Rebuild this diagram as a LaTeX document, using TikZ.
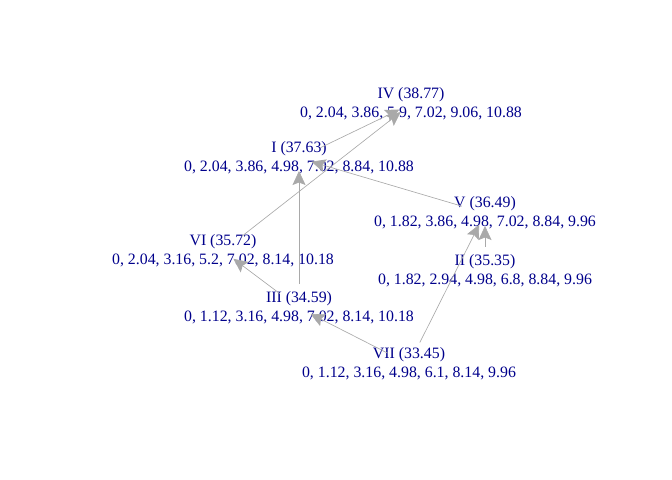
\documentclass[tikz,border=0pt]{standalone}
\usepackage{fontspec}
\setmainfont{Liberation Serif}
\usetikzlibrary{arrows.meta}
\definecolor{labelblue}{HTML}{00008B}
\definecolor{edgegray}{HTML}{A9A9A9}
\begin{document}
\begin{tikzpicture}[x=1bp,y=-1bp,
  vlabel/.style={inner sep=0pt,align=center,text=labelblue,font=\fontsize{15.9pt}{19pt}\selectfont},
  edge/.style={draw=edgegray,line width=0.65bp,shorten <=24bp,shorten >=13bp,
    -{Stealth[length=14bp,width=13bp,inset=2.5bp,fill=edgegray]}}]
\useasboundingbox (0,0) rectangle (672,480);
\node[vlabel] (IV)  at (411,104) {IV (38.77)\\0, 2.04, 3.86, 5.9, 7.02, 9.06, 10.88};
\node[vlabel] (I)   at (299,158) {I (37.63)\\0, 2.04, 3.86, 4.98, 7.02, 8.84, 10.88};
\node[vlabel] (V)   at (485,213) {V (36.49)\\0, 1.82, 3.86, 4.98, 7.02, 8.84, 9.96};
\node[vlabel] (II)  at (485,271) {II (35.35)\\0, 1.82, 2.94, 4.98, 6.8, 8.84, 9.96};
\node[vlabel] (VI)  at (223,251) {VI (35.72)\\0, 2.04, 3.16, 5.2, 7.02, 8.14, 10.18};
\node[vlabel] (III) at (299,308) {III (34.59)\\0, 1.12, 3.16, 4.98, 7.02, 8.14, 10.18};
\node[vlabel] (VII) at (409,364) {VII (33.45)\\0, 1.12, 3.16, 4.98, 6.1, 8.14, 9.96};
\draw[edge] (I.center) -- (IV.center);
\draw[edge] (VI.center) -- (IV.center);
\draw[edge] (III.center) -- (I.center);
\draw[edge] (V.center) -- (I.center);
\draw[edge] (III.center) -- (VI.center);
\draw[edge] (VII.center) -- (III.center);
\draw[edge] (VII.center) -- (V.center);
\draw[edge] (II.center) -- (V.center);
\end{tikzpicture}
\end{document}
